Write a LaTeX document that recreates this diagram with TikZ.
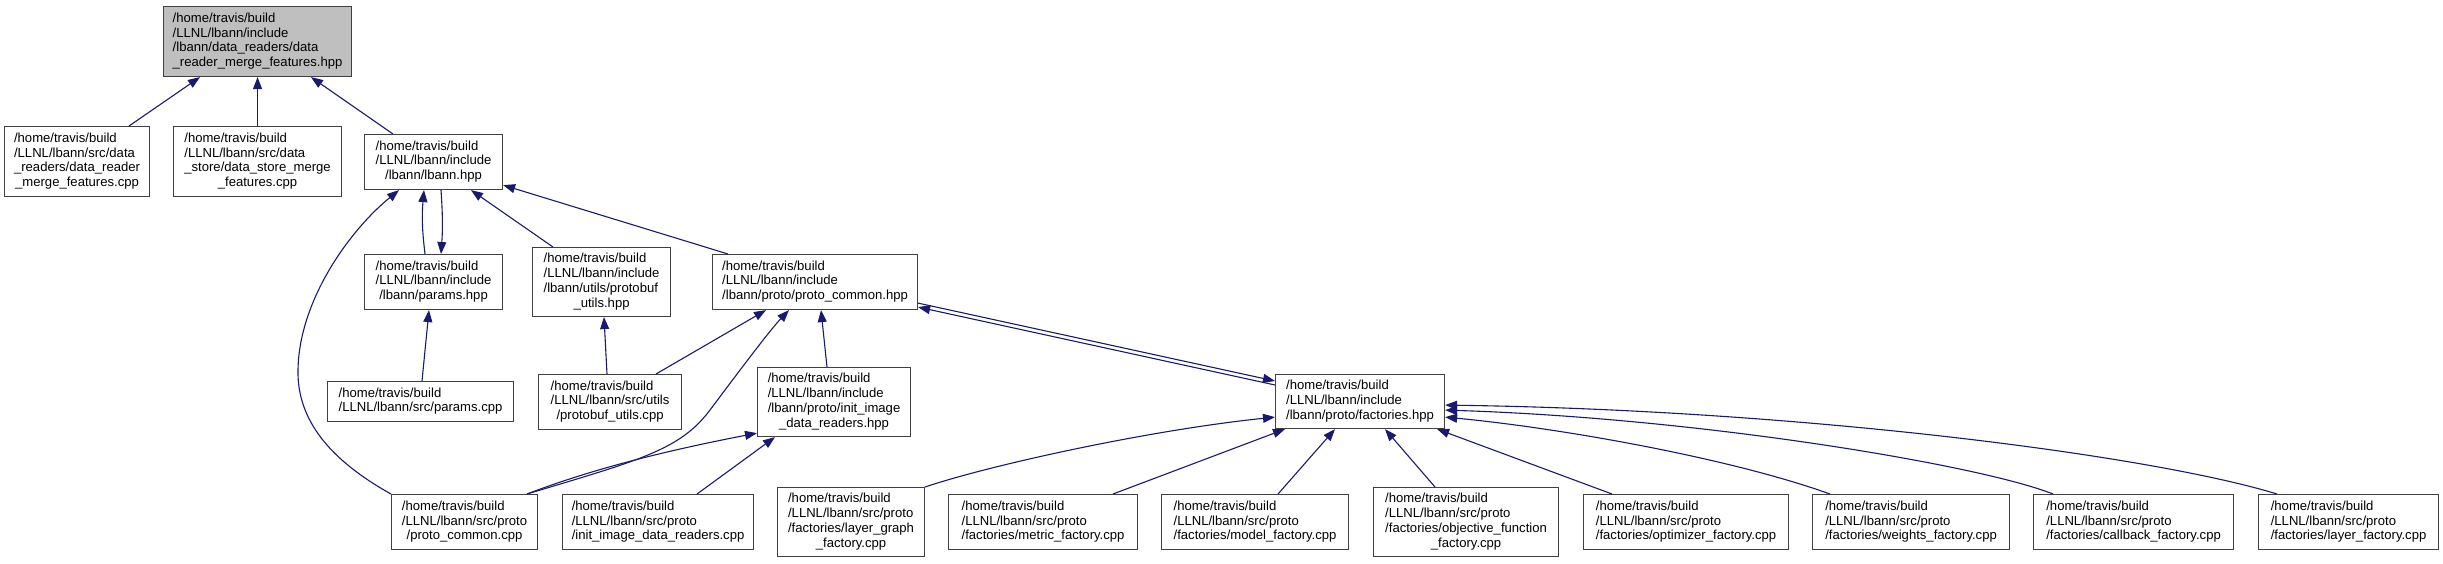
\documentclass[tikz,border=0pt]{standalone}
\usepackage{fontspec}
\setmainfont{Liberation Sans}
\usetikzlibrary{arrows.meta}
\definecolor{edgecol}{HTML}{191970}
\definecolor{bordercol}{HTML}{404040}
\definecolor{curfill}{HTML}{BFBFBF}
\newcommand\lab[2]{\begin{tabular}{@{}l@{}}#1\\\multicolumn{1}{@{}c@{}}{#2}\end{tabular}}
\begin{document}
\begin{tikzpicture}[x=1pt,y=-1pt,
  box/.style={draw=bordercol, line width=1.1pt, fill=white, rectangle, inner sep=0pt, anchor=north west, font=\fontsize{13.1}{14.7}\selectfont},
  cur/.style={fill=curfill},
  edge/.style={draw=edgecol, line width=1.1pt, -{Triangle[length=12pt,width=9pt]}}]
\useasboundingbox (0,0) rectangle (2443,563);

% nodes
\node[box,cur,minimum width=188pt,minimum height=70pt] (top) at (163,6) {\lab{/home/travis/build\\/LLNL/lbann/include\\/lbann/data\_readers/data}{\_reader\_merge\_features.hpp}};
\node[box,minimum width=145pt,minimum height=70pt] (A) at (4,126) {\lab{/home/travis/build\\/LLNL/lbann/src/data\\\_readers/data\_reader}{\_merge\_features.cpp}};
\node[box,minimum width=168pt,minimum height=70pt] (B) at (173,126) {\lab{/home/travis/build\\/LLNL/lbann/src/data\\\_store/data\_store\_merge}{\_features.cpp}};
\node[box,minimum width=138pt,minimum height=55pt] (lbann) at (364,134) {\lab{/home/travis/build\\/LLNL/lbann/include}{/lbann/lbann.hpp}};
\node[box,minimum width=138pt,minimum height=55pt] (parh) at (364,254) {\lab{/home/travis/build\\/LLNL/lbann/include}{/lbann/params.hpp}};
\node[box,minimum width=138pt,minimum height=69pt] (pbuh) at (532,247) {\lab{/home/travis/build\\/LLNL/lbann/include\\/lbann/utils/protobuf}{\_utils.hpp}};
\node[box,minimum width=205pt,minimum height=55pt] (pch) at (712,254) {\lab{/home/travis/build\\/LLNL/lbann/include}{/lbann/proto/proto\_common.hpp}};
\node[box,minimum width=186pt,minimum height=40pt] (parcpp) at (327,381) {\lab{/home/travis/build}{/LLNL/lbann/src/params.cpp}};
\node[box,minimum width=143pt,minimum height=55pt] (pbucpp) at (538,374) {\lab{/home/travis/build\\/LLNL/lbann/src/utils}{/protobuf\_utils.cpp}};
\node[box,minimum width=153pt,minimum height=69pt] (iih) at (757,367) {\lab{/home/travis/build\\/LLNL/lbann/include\\/lbann/proto/init\_image}{\_data\_readers.hpp}};
\node[box,minimum width=169pt,minimum height=54pt] (fach) at (1275,374) {\lab{/home/travis/build\\/LLNL/lbann/include}{/lbann/proto/factories.hpp}};
\node[box,minimum width=146pt,minimum height=55pt] (pccpp) at (391,494) {\lab{/home/travis/build\\/LLNL/lbann/src/proto}{/proto\_common.cpp}};
\node[box,minimum width=191pt,minimum height=55pt] (iicpp) at (562,494) {\lab{/home/travis/build\\/LLNL/lbann/src/proto}{/init\_image\_data\_readers.cpp}};
\node[box,minimum width=147pt,minimum height=69pt] (lg) at (777,487) {\lab{/home/travis/build\\/LLNL/lbann/src/proto\\/factories/layer\_graph}{\_factory.cpp}};
\node[box,minimum width=189pt,minimum height=55pt] (metric) at (948,494) {\lab{/home/travis/build\\/LLNL/lbann/src/proto}{/factories/metric\_factory.cpp}};
\node[box,minimum width=187pt,minimum height=55pt] (model) at (1161,494) {\lab{/home/travis/build\\/LLNL/lbann/src/proto}{/factories/model\_factory.cpp}};
\node[box,minimum width=185pt,minimum height=69pt] (obj) at (1373,487) {\lab{/home/travis/build\\/LLNL/lbann/src/proto\\/factories/objective\_function}{\_factory.cpp}};
\node[box,minimum width=205pt,minimum height=55pt] (opt) at (1583,494) {\lab{/home/travis/build\\/LLNL/lbann/src/proto}{/factories/optimizer\_factory.cpp}};
\node[box,minimum width=197pt,minimum height=55pt] (wts) at (1812,494) {\lab{/home/travis/build\\/LLNL/lbann/src/proto}{/factories/weights\_factory.cpp}};
\node[box,minimum width=200pt,minimum height=55pt] (cb) at (2033,494) {\lab{/home/travis/build\\/LLNL/lbann/src/proto}{/factories/callback\_factory.cpp}};
\node[box,minimum width=180pt,minimum height=55pt] (lay) at (2258,494) {\lab{/home/travis/build\\/LLNL/lbann/src/proto}{/factories/layer\_factory.cpp}};

% edges
\draw[edge] ([xshift=125pt]A.north west) -- ([xshift=37pt]top.south west);
\draw[edge] (B.north) -- (top.south);
\draw[edge] ([xshift=29pt]lbann.north west) -- ([xshift=148pt]top.south west);
\draw[edge] ([xshift=61pt]parh.north west) to[bend left=6] ([xshift=60pt]lbann.south west);
\draw[edge] ([xshift=77pt]lbann.south west) to[bend left=4] ([xshift=77pt]parh.north west);
\draw[edge] (pccpp.north west) .. controls (330,460) and (297,420) .. (298,370) .. controls (299,300) and (350,230) .. ([xshift=35pt]lbann.south west);
\draw[edge] ([xshift=21pt]pbuh.north west) -- ([xshift=107pt]lbann.south west);
\draw[edge] ([xshift=16pt]pch.north west) -- ([yshift=5pt]lbann.south east);
\draw[edge] ([xshift=95pt]parcpp.north west) -- ([xshift=65pt]parh.south west);
\draw[edge] ([xshift=69pt]pbucpp.north west) -- ([xshift=72pt]pbuh.south west);
\draw[edge] ([xshift=118pt]pbucpp.north west) -- ([xshift=54pt]pch.south west);
\draw[edge] ([xshift=136pt]pccpp.north west) .. controls (640,460) and (680,450) .. (710,410) .. controls (740,370) and (770,330) .. ([xshift=77pt]pch.south west);
\draw[edge] ([xshift=136pt]pccpp.north west) .. controls (600,466) and (680,448) .. ([yshift=4pt]iih.south west);
\draw[edge] ([xshift=70pt]iih.north west) -- ([xshift=109pt]pch.south west);
\draw[edge] ([xshift=135pt]iicpp.north west) -- ([xshift=18pt]iih.south west);
\draw[edge] ([yshift=7pt]pch.south east) -- ([yshift=-7pt]fach.north west);
\draw[edge] ([yshift=-11pt]fach.north west) -- ([yshift=3pt]pch.south east);
\draw[edge] (lg.north east) .. controls (990,465) and (1150,430) .. ([yshift=12pt]fach.south west);
\draw[edge] ([xshift=165pt]metric.north west) -- ([xshift=10pt]fach.south west);
\draw[edge] ([xshift=117pt]model.north west) -- ([xshift=60pt]fach.south west);
\draw[edge] ([xshift=62pt]obj.north west) -- ([xshift=110pt]fach.south west);
\draw[edge] ([xshift=29pt]opt.north west) -- ([xshift=-8pt]fach.south east);
\draw[edge] ([xshift=18pt]wts.north west) .. controls (1730,458) and (1560,428) .. ([yshift=12pt]fach.south east);
\draw[edge] ([xshift=20pt]cb.north west) .. controls (1980,465) and (1700,418) .. ([yshift=19pt]fach.south east);
\draw[edge] ([xshift=19pt]lay.north west) .. controls (2150,455) and (1800,410) .. ([yshift=24pt]fach.south east);
\end{tikzpicture}
\end{document}
